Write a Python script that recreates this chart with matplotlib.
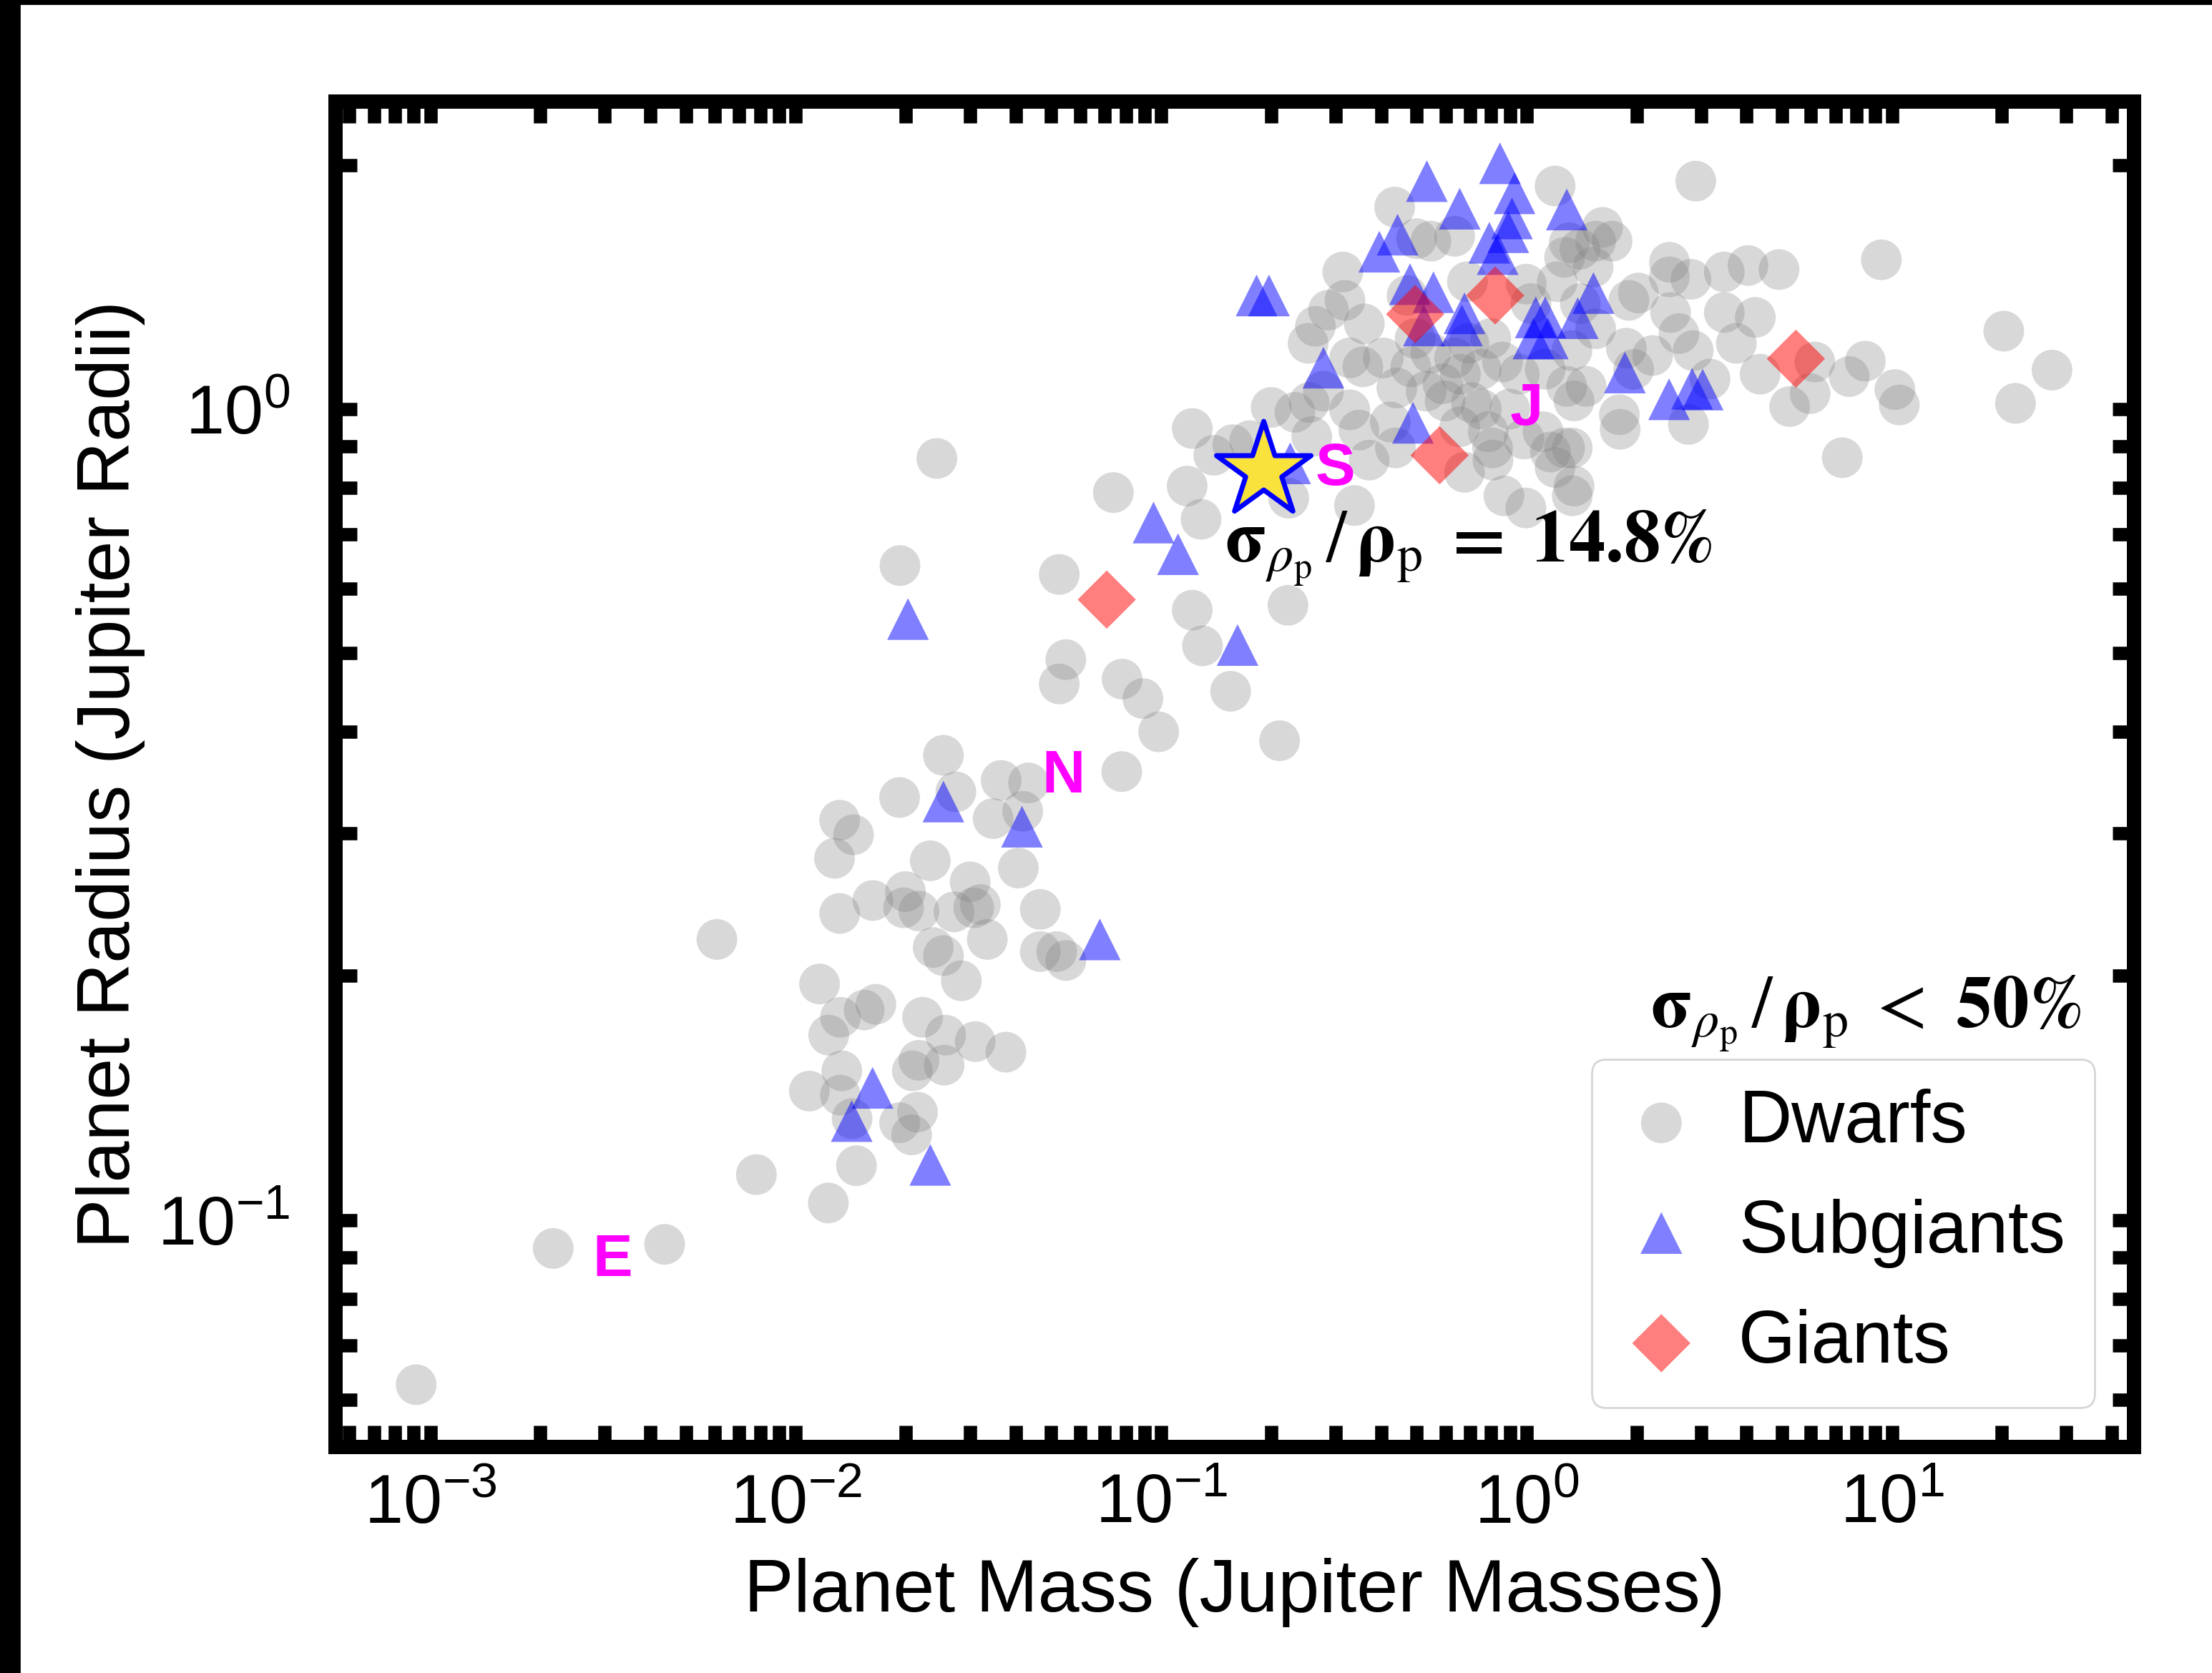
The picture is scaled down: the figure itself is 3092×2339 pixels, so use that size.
import matplotlib.pyplot as plt
import numpy as np
from matplotlib.patches import Rectangle
from matplotlib.ticker import LogLocator, NullFormatter

plt.rcParams['font.family'] = ['Liberation Sans', 'DejaVu Sans']

# log10 of planet mass (Jupiter masses) and radius (Jupiter radii)
dwarf_logm = [
    -3.039, -2.664, -2.359, -2.108, -1.911, -2.216, -1.596, -1.716, -1.562, -1.438,
    -1.363, -1.460, -1.379, -1.880, -1.842, -1.894, -1.632, -1.523, -1.391, -1.700,
    -1.789, -1.880, -1.705, -1.663, -1.567, -1.513, -1.495, -1.331, -1.624, -1.596,
    -1.476, -1.331, -1.286, -1.261, -1.547, -1.935, -1.781, -1.813, -1.878, -1.910,
    -1.653, -1.590, -1.509, -1.425, -1.663, -1.681, -1.594, -1.874, -1.963, -1.878,
    -1.846, -1.667, -1.716, -1.683, -1.834, -1.614, -1.715, -1.131, -0.915, -0.856,
    -0.929, -0.891, -1.279, -0.915, -0.887, -1.261, -1.279, -1.107, -1.050, -1.007,
    -0.810, -1.108, -0.676, -0.653, -0.651, -0.471, -0.804, -0.699, -0.758, -0.634,
    -0.595, -0.588, -0.556, -0.484, -0.373, -0.359, -0.431, -0.062, -0.002, 0.125,
    0.256, 0.125, 0.065, -0.093, -0.105, -0.183, -0.007, 0.045, 0.078, -0.092,
    -0.229, -0.275, -0.223, -0.151, -0.262, -0.197, -0.158, -0.098, -0.066, -0.020,
    0.051, 0.110, -0.361, 0.078, -0.503, -0.542, -0.497, -0.444, -0.578, -0.598,
    -0.484, -0.448, -0.392, -0.327, -0.262, -0.197, -0.301, 0.117, 0.084, -0.001,
    0.208, 0.189, 0.234, 0.104, 0.146, 0.182, 0.280, 0.306, 0.391, 0.391,
    0.450, 0.541, 0.606, 0.691, 0.971, 0.541, 0.626, 0.394, 0.417, 0.574,
    0.273, 0.345, 0.456, 0.502, 0.639, 0.789, 0.927, 0.883, 1.008, 1.020,
    0.720, 0.776, 0.864, 0.254, 0.443, 0.130, 0.104, 0.130, 0.463, 1.306,
    1.438, 1.338, 0.189, 0.124, 0.163, 0.293, -0.305, -0.124, 0.147, 0.012,
    -0.355, -0.162, -0.459, -0.170, -0.181, -0.124, -0.046, -0.317,
]
dwarf_logr = [
    -1.203, -1.035, -1.030, -0.944, -0.979, -0.654, -0.427, -0.479, -0.472, -0.458,
    -0.461, -0.505, -0.496, -0.507, -0.525, -0.554, -0.557, -0.583, -0.566, -0.595,
    -0.606, -0.622, -0.615, -0.619, -0.620, -0.615, -0.611, -0.617, -0.664, -0.674,
    -0.654, -0.669, -0.669, -0.680, -0.705, -0.709, -0.734, -0.741, -0.750, -0.772,
    -0.750, -0.772, -0.780, -0.793, -0.803, -0.816, -0.809, -0.816, -0.841, -0.846,
    -0.875, -0.867, -0.880, -0.895, -0.933, -0.061, -0.193, -0.103, -0.024, -0.057,
    -0.095, -0.136, -0.204, -0.248, -0.292, -0.309, -0.339, -0.333, -0.357, -0.398,
    -0.348, -0.447, -0.409, -0.242, -0.110, -0.119, -0.044, 0.002, -0.039, -0.004,
    0.008, -0.034, 0.022, -0.001, -0.016, -0.048, -0.063, -0.107, -0.122, -0.107,
    -0.025, -0.048, -0.053, -0.048, -0.028, -0.022, -0.037, -0.028, -0.072, -0.063,
    0.031, 0.022, 0.010, 0.008, 0.069, 0.063, 0.081, 0.087, 0.058, 0.043,
    0.049, 0.028, 0.249, 0.275, 0.169, 0.122, 0.134, 0.105, 0.102, 0.081,
    0.063, 0.052, 0.063, 0.140, 0.207, 0.213, 0.210, 0.205, 0.157, 0.154,
    0.224, 0.207, 0.207, 0.187, 0.197, 0.175, 0.134, 0.143, 0.181, 0.163,
    0.160, 0.169, 0.177, 0.172, 0.184, 0.119, 0.113, 0.119, 0.093, 0.081,
    0.075, 0.066, 0.072, 0.037, 0.043, 0.058, 0.059, 0.040, 0.024, 0.005,
    0.003, 0.019, -0.060, -0.007, -0.019, 0.010, -0.048, -0.095, 0.281, 0.096,
    0.048, 0.007, 0.099, 0.072, 0.028, 0.049, 0.087, 0.049, 0.130, 0.130,
    0.026, 0.157, -0.026, -0.078, 0.043, 0.000, 0.000, 0.052,
]

subgiant_logm = [
    -1.596, -1.381, -1.168, -1.790, -1.847, -1.632, -1.693, -1.021, -0.954, -0.791,
    -0.739, -0.705, -0.647, -0.556, -0.311, -0.273, -0.073, -0.183, -0.033, -0.040,
    -0.050, -0.102, -0.079, -0.353, -0.403, 0.110, -0.319, -0.255, -0.170, -0.281,
    -0.177, 0.025, 0.051, 0.019, 0.058, 0.183, 0.140, 0.269, 0.390, 0.453, 0.482,
]
subgiant_logr = [
    -0.484, -0.515, -0.654, -0.837, -0.878, -0.932, -0.259, -0.140, -0.179, -0.291,
    0.140, 0.140, -0.067, 0.051, -0.017, 0.281, 0.303, 0.247, 0.266, 0.235,
    0.218, 0.205, 0.191, 0.215, 0.194, 0.246, 0.154, 0.144, 0.118, 0.103,
    0.103, 0.113, 0.113, 0.087, 0.087, 0.143, 0.112, 0.045, 0.012, 0.025, 0.024,
]

giant_logm = [-1.149, -0.238, 0.737, -0.305, -0.086]
giant_logr = [-0.235, -0.057, 0.062, 0.117, 0.140]

target_mass, target_radius = 0.19, 0.84

solar_names = ['E', 'N', 'S', 'J']
solar_mass = [0.00315, 0.054, 0.299, 1.0]
solar_radius = [0.0892, 0.352, 0.843, 1.0]

fig = plt.figure(figsize=(15.46, 11.695), dpi=200)
ax = fig.add_axes([0.1517, 0.1351, 0.8131, 0.8042])

ax.scatter(10 ** np.array(dwarf_logm), 10 ** np.array(dwarf_logr), s=420, c='gray',
           alpha=0.3, edgecolors='none', label='Dwarfs', zorder=2)
ax.scatter(10 ** np.array(subgiant_logm), 10 ** np.array(subgiant_logr), s=440, marker='^',
           c='blue', alpha=0.5, edgecolors='none', label='Subgiants', zorder=3)
ax.scatter(10 ** np.array(giant_logm), 10 ** np.array(giant_logr), s=430, marker='D',
           c='red', alpha=0.5, edgecolors='none', label='Giants', zorder=4)
ax.scatter([target_mass], [target_radius], s=2500, marker='*', c='#f8e23b',
           edgecolors='blue', linewidths=2.5, zorder=6)

for name, m, r in zip(solar_names, solar_mass, solar_radius):
    ax.text(m, r, name, color='magenta', fontsize=30, fontweight='bold',
            ha='center', va='center', zorder=7)

ax.set_xscale('log')
ax.set_yscale('log')
ax.set_xlim(5.5e-4, 46.0)
ax.set_ylim(0.0525, 2.394)

for axis in (ax.xaxis, ax.yaxis):
    axis.set_minor_locator(LogLocator(base=10, subs=np.arange(2, 10), numticks=100))
    axis.set_minor_formatter(NullFormatter())

ax.tick_params(which='both', direction='in', top=True, right=True,
               length=10.8, width=6.7, labelsize=35)
ax.tick_params(axis='y', which='major', pad=23)
ax.tick_params(axis='x', which='major', pad=13)
for sp in ax.spines.values():
    sp.set_linewidth(7.2)

ax.set_xlabel('Planet Mass (Jupiter Masses)', fontsize=37.5, labelpad=10.5)
ax.set_ylabel('Planet Radius (Jupiter Radii)', fontsize=37.5, labelpad=6)

ax.text(0.4944, 0.658,
        r'$\mathbf{\sigma}_{\rho_{\mathrm{p}}}\,/\,\mathbf{\rho}_{\mathrm{p}}\;\mathbf{=}\;\mathbf{14.8\%}$',
        transform=ax.transAxes, fontsize=37, ha='left', va='baseline',
        math_fontfamily='stix', zorder=8)
ax.text(0.9706, 0.312,
        r'$\mathbf{\sigma}_{\rho_{\mathrm{p}}}\,/\,\mathbf{\rho}_{\mathrm{p}}\;<\ \mathbf{50\%}$',
        transform=ax.transAxes, fontsize=37, ha='right', va='baseline',
        math_fontfamily='stix', zorder=8)

ax.legend(loc='lower right', fontsize=37, labelspacing=0.555, borderpad=0.4,
          handlelength=1.1, handletextpad=0.5, borderaxespad=0.535, scatterpoints=1)

# black edge strips seen on the left and top of the original image
fig.add_artist(Rectangle((0, 0), 27 / 3092, 1, transform=fig.transFigure,
                         color='black', zorder=10))
fig.add_artist(Rectangle((0, 1 - 5 / 2339), 1, 5 / 2339, transform=fig.transFigure,
                         color='black', zorder=10))

fig.savefig('out.png', dpi=200)
